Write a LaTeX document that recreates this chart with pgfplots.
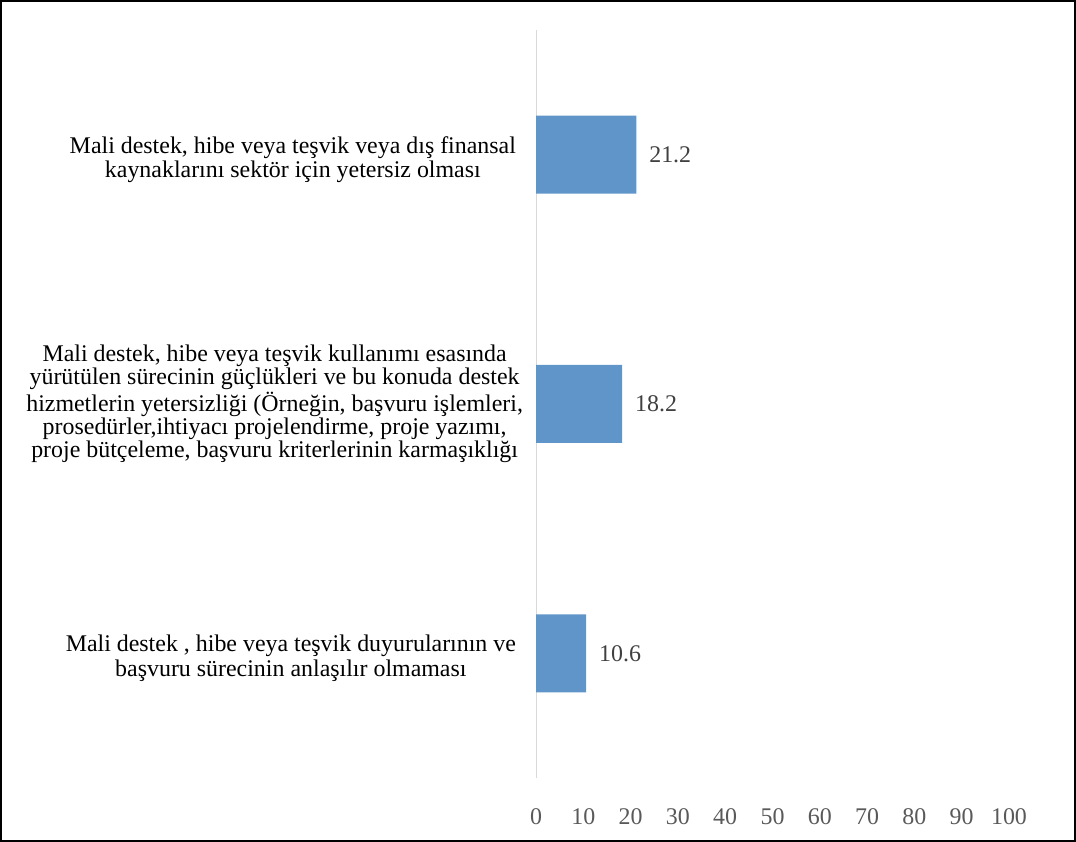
\documentclass[border=0pt]{standalone}
\usepackage{pgfplots}
\pgfplotsset{compat=1.18}
\usepackage{fontspec}
\setmainfont{Liberation Serif}
\definecolor{barblue}{HTML}{5F95C9}
\definecolor{axgray}{HTML}{D9D9D9}
\definecolor{txtgray}{HTML}{595959}
\definecolor{lblgray}{HTML}{404040}
% small nudges for the two-line labels
\newcommand{\up}{\rule{0pt}{13.2bp}}
\newcommand{\pad}{\hspace*{3.5bp}}
\begin{document}
\begin{tikzpicture}
\useasboundingbox (0,0) rectangle (538bp,421bp);
\draw[black, line width=1.2bp] (0.6bp,0.6bp) rectangle (537.4bp,420.4bp);
\begin{axis}[
    at={(268bp,32bp)}, anchor=south west,
    width=236.5bp, height=374bp, scale only axis,
    xmin=0, xmax=100, ymin=-0.5, ymax=2.5,
    xbar, bar width=39bp, bar shift=0pt,
    xtick={0,10,...,100},
    ytick={0,1,2},
    yticklabels={
        {\up Mali destek , hibe veya teşvik duyurularının ve\pad\\[0.5bp]başvuru sürecinin anlaşılır olmaması\pad},
        {Mali destek, hibe veya teşvik kullanımı esasında\\yürütülen sürecinin güçlükleri ve bu konuda destek\\hizmetlerin yetersizliği (Örneğin, başvuru işlemleri,\\prosedürler,ihtiyacı projelendirme, proje yazımı,\\proje bütçeleme, başvuru kriterlerinin karmaşıklığı},
        {\up Mali destek, hibe veya teşvik veya dış finansal\pad\\[0.5bp]kaynaklarını sektör için yetersiz olması\pad}
    },
    axis line style={draw=none},
    major tick length=0pt,
    /pgf/number format/assume math mode=true,
    xticklabel style={text=txtgray, font=\fontsize{12}{12}\selectfont, yshift=-12bp},
    yticklabel style={align=center, font=\fontsize{12}{11.6}\selectfont, xshift=-3bp},
    point meta=x,
    nodes near coords,
    nodes near coords style={text=lblgray, font=\fontsize{12}{12}\selectfont, xshift=3bp,
        /pgf/number format/.cd, fixed, fixed zerofill, precision=1},
]
\draw[axgray, line width=1bp] (axis cs:0,-0.5) -- (axis cs:0,2.5);
\addplot[fill=barblue, draw=none] coordinates {(10.6,0) (18.2,1) (21.2,2)};
\end{axis}
\end{tikzpicture}
\end{document}
